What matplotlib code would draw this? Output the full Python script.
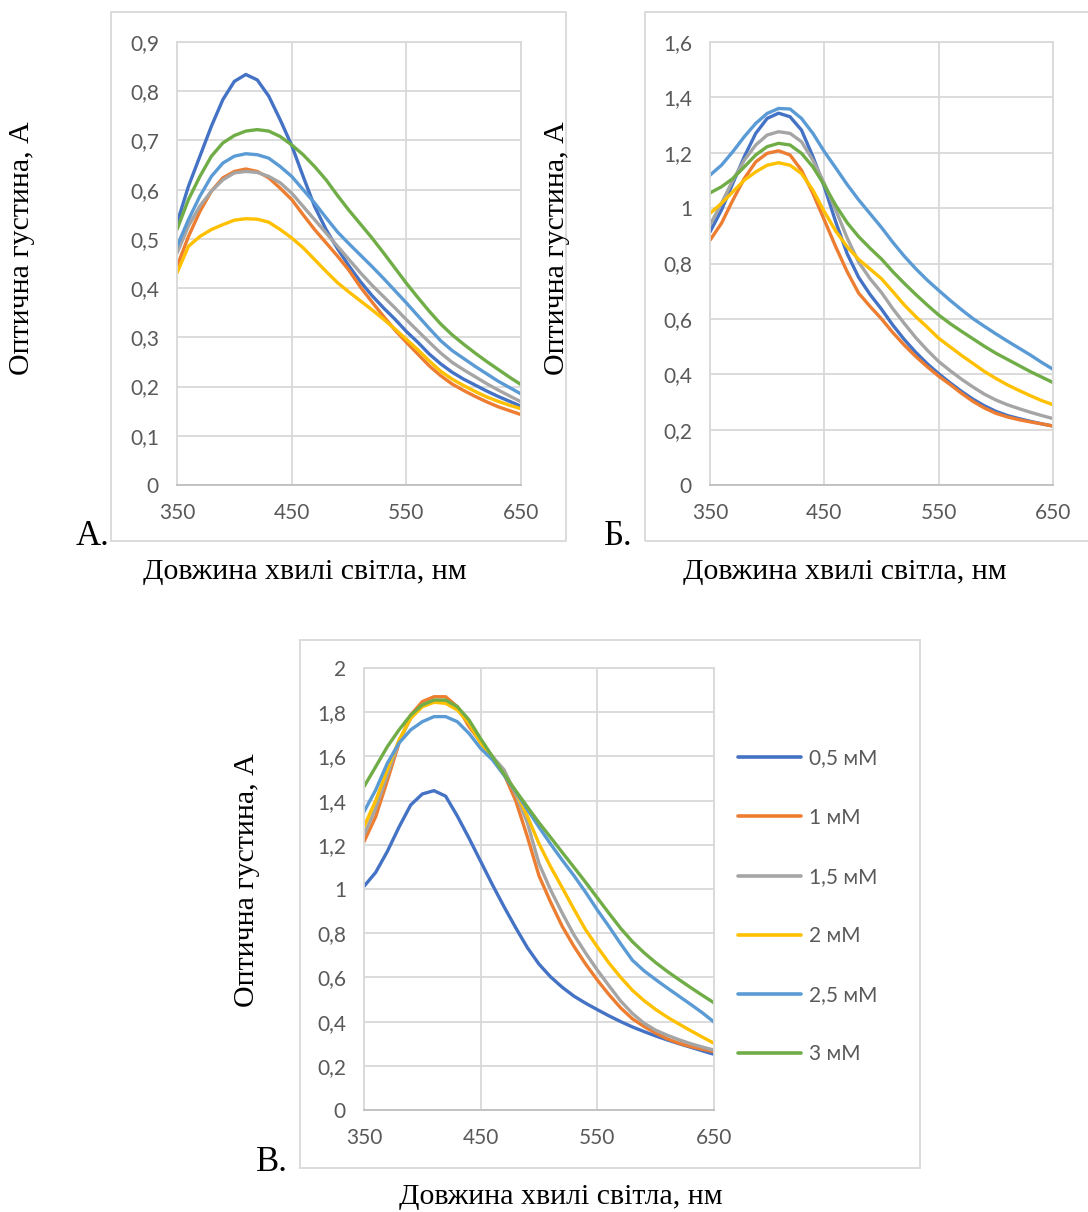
import matplotlib
matplotlib.use("Agg")
import matplotlib.pyplot as plt
from matplotlib.patches import Rectangle

W, H = 1088, 1212

wavelength = [350, 360, 370, 380, 390, 400, 410, 420, 430, 440, 450, 460, 470, 480, 490, 500,
              510, 520, 530, 540, 550, 560, 570, 580, 590, 600, 610, 620, 630, 640, 650]
series_names = ["0,5 мМ", "1 мМ", "1,5 мМ", "2 мМ", "2,5 мМ", "3 мМ"]
series_colors = ["#4472C4", "#ED7D31", "#A5A5A5", "#FFC000", "#5B9BD5", "#70AD47"]

# Panel A
a_05 = [0.532, 0.607, 0.668, 0.729, 0.783, 0.820, 0.834, 0.823, 0.790, 0.742, 0.690, 0.627, 0.566, 0.519, 0.480, 0.445,
        0.413, 0.385, 0.360, 0.337, 0.312, 0.290, 0.266, 0.246, 0.229, 0.215, 0.203, 0.191, 0.180, 0.170, 0.160]
a_1 = [0.444, 0.505, 0.556, 0.597, 0.624, 0.637, 0.642, 0.637, 0.624, 0.603, 0.580, 0.549, 0.519, 0.492, 0.465, 0.436,
       0.402, 0.372, 0.343, 0.315, 0.290, 0.266, 0.242, 0.222, 0.205, 0.192, 0.180, 0.169, 0.159, 0.151, 0.143]
a_15 = [0.471, 0.526, 0.567, 0.597, 0.620, 0.634, 0.637, 0.635, 0.627, 0.614, 0.593, 0.566, 0.539, 0.512, 0.485, 0.458,
        0.431, 0.406, 0.383, 0.360, 0.336, 0.313, 0.290, 0.268, 0.249, 0.234, 0.220, 0.206, 0.193, 0.181, 0.169]
a_2 = [0.431, 0.485, 0.505, 0.519, 0.529, 0.538, 0.541, 0.540, 0.534, 0.519, 0.502, 0.482, 0.458, 0.434, 0.411, 0.392,
       0.374, 0.356, 0.337, 0.317, 0.296, 0.275, 0.252, 0.231, 0.215, 0.202, 0.190, 0.179, 0.170, 0.162, 0.155]
a_25 = [0.485, 0.539, 0.587, 0.627, 0.654, 0.668, 0.673, 0.671, 0.664, 0.647, 0.627, 0.600, 0.573, 0.543, 0.514, 0.490,
        0.467, 0.444, 0.420, 0.395, 0.370, 0.344, 0.318, 0.293, 0.273, 0.257, 0.241, 0.226, 0.211, 0.198, 0.185]
a_3 = [0.519, 0.580, 0.627, 0.668, 0.695, 0.710, 0.719, 0.722, 0.719, 0.708, 0.691, 0.671, 0.647, 0.620, 0.588, 0.558,
       0.530, 0.502, 0.472, 0.441, 0.410, 0.381, 0.353, 0.327, 0.305, 0.286, 0.268, 0.251, 0.235, 0.219, 0.204]

# Panel Б
b_05 = [0.914, 0.993, 1.090, 1.186, 1.270, 1.324, 1.343, 1.330, 1.282, 1.186, 1.077, 0.950, 0.835, 0.750, 0.688, 0.635,
        0.577, 0.525, 0.479, 0.438, 0.402, 0.369, 0.338, 0.310, 0.286, 0.266, 0.251, 0.240, 0.230, 0.221, 0.213]
b_1 = [0.884, 0.945, 1.029, 1.107, 1.167, 1.198, 1.207, 1.192, 1.137, 1.053, 0.957, 0.860, 0.770, 0.693, 0.645, 0.600,
       0.550, 0.505, 0.464, 0.427, 0.393, 0.363, 0.331, 0.302, 0.278, 0.259, 0.246, 0.236, 0.228, 0.221, 0.213]
b_15 = [0.939, 1.017, 1.101, 1.173, 1.228, 1.264, 1.276, 1.270, 1.240, 1.173, 1.089, 0.993, 0.892, 0.805, 0.745, 0.695,
        0.636, 0.583, 0.532, 0.487, 0.446, 0.413, 0.382, 0.354, 0.328, 0.307, 0.290, 0.276, 0.263, 0.251, 0.240]
b_2 = [0.981, 1.017, 1.059, 1.101, 1.131, 1.155, 1.164, 1.155, 1.125, 1.065, 0.987, 0.917, 0.860, 0.815, 0.780, 0.745,
       0.698, 0.650, 0.608, 0.570, 0.530, 0.499, 0.468, 0.439, 0.410, 0.385, 0.362, 0.342, 0.323, 0.305, 0.290]
b_25 = [1.119, 1.155, 1.204, 1.258, 1.306, 1.342, 1.360, 1.358, 1.324, 1.270, 1.204, 1.145, 1.085, 1.030, 0.980, 0.930,
        0.876, 0.826, 0.781, 0.740, 0.703, 0.667, 0.633, 0.601, 0.573, 0.546, 0.520, 0.495, 0.470, 0.443, 0.418]
b_3 = [1.055, 1.077, 1.107, 1.149, 1.192, 1.222, 1.234, 1.228, 1.198, 1.149, 1.083, 1.010, 0.947, 0.897, 0.855, 0.816,
       0.770, 0.728, 0.688, 0.650, 0.614, 0.583, 0.555, 0.528, 0.501, 0.476, 0.454, 0.432, 0.410, 0.390, 0.370]

# Panel В
c_05 = [1.012, 1.075, 1.170, 1.280, 1.380, 1.430, 1.445, 1.420, 1.330, 1.230, 1.125, 1.020, 0.920, 0.825, 0.735, 0.660,
        0.602, 0.555, 0.515, 0.483, 0.454, 0.426, 0.400, 0.376, 0.355, 0.335, 0.317, 0.300, 0.284, 0.268, 0.252]
c_1 = [1.214, 1.327, 1.490, 1.660, 1.787, 1.848, 1.870, 1.870, 1.825, 1.735, 1.665, 1.600, 1.520, 1.400, 1.237, 1.060,
       0.940, 0.830, 0.740, 0.660, 0.588, 0.522, 0.462, 0.413, 0.378, 0.348, 0.322, 0.302, 0.287, 0.275, 0.264]
c_15 = [1.244, 1.365, 1.516, 1.667, 1.772, 1.833, 1.850, 1.848, 1.818, 1.750, 1.660, 1.600, 1.540, 1.430, 1.300, 1.115,
        0.995, 0.890, 0.792, 0.710, 0.633, 0.562, 0.493, 0.437, 0.393, 0.361, 0.338, 0.318, 0.300, 0.285, 0.271]
c_2 = [1.282, 1.400, 1.540, 1.674, 1.772, 1.825, 1.845, 1.840, 1.810, 1.750, 1.660, 1.590, 1.520, 1.440, 1.330, 1.205,
       1.100, 1.005, 0.908, 0.815, 0.738, 0.665, 0.600, 0.542, 0.495, 0.455, 0.420, 0.389, 0.359, 0.330, 0.302]
c_25 = [1.350, 1.448, 1.569, 1.660, 1.720, 1.757, 1.780, 1.780, 1.757, 1.704, 1.636, 1.585, 1.515, 1.440, 1.360, 1.280,
        1.203, 1.130, 1.060, 0.985, 0.905, 0.830, 0.752, 0.678, 0.630, 0.590, 0.552, 0.515, 0.478, 0.440, 0.398]
c_3 = [1.463, 1.553, 1.644, 1.720, 1.787, 1.833, 1.855, 1.855, 1.825, 1.765, 1.680, 1.600, 1.520, 1.445, 1.372, 1.300,
       1.233, 1.165, 1.098, 1.030, 0.960, 0.890, 0.822, 0.762, 0.712, 0.667, 0.627, 0.590, 0.554, 0.519, 0.485]

x_ticks = [350, 450, 550, 650]
x_tick_labels = ["350", "450", "550", "650"]
a_y_ticks = [0, 0.1, 0.2, 0.3, 0.4, 0.5, 0.6, 0.7, 0.8, 0.9]
a_y_labels = ["0", "0,1", "0,2", "0,3", "0,4", "0,5", "0,6", "0,7", "0,8", "0,9"]
b_y_ticks = [0, 0.2, 0.4, 0.6, 0.8, 1.0, 1.2, 1.4, 1.6]
b_y_labels = ["0", "0,2", "0,4", "0,6", "0,8", "1", "1,2", "1,4", "1,6"]
c_y_ticks = [0, 0.2, 0.4, 0.6, 0.8, 1.0, 1.2, 1.4, 1.6, 1.8, 2.0]
c_y_labels = ["0", "0,2", "0,4", "0,6", "0,8", "1", "1,2", "1,4", "1,6", "1,8", "2"]

ylabel_text = "Оптична густина, А"
xlabel_text = "Довжина хвилі світла, нм"
panel_letters = ["А.", "Б.", "В."]

TICK_FONT = "Lato"
SERIF = "Liberation Serif"
TICK_COLOR = "#595959"
GRID = "#d9d9d9"

fig = plt.figure(figsize=(W / 100, H / 100), dpi=100)


def fx(px):
    return px / W


def fy(py):
    return 1 - py / H


def box(x0, y0, x1, y1):
    fig.patches.append(Rectangle((fx(x0), fy(y1)), fx(x1) - fx(x0), fy(y0) - fy(y1),
                                 transform=fig.transFigure, fill=False,
                                 edgecolor="#d9d9d9", linewidth=1.3, zorder=0))


def make_axes(rect_px, series, yticks, ylabels):
    l, t, r, b = rect_px
    ax = fig.add_axes([fx(l), fy(b), fx(r) - fx(l), fy(t) - fy(b)])
    for vals, col, name in zip(series, series_colors, series_names):
        ax.plot(wavelength, vals, color=col, lw=2.4, label=name,
                solid_capstyle="round", solid_joinstyle="round")
    ax.set_xlim(350, 650)
    ax.set_ylim(yticks[0], yticks[-1])
    ax.set_xticks(x_ticks)
    ax.set_xticklabels(x_tick_labels)
    ax.set_yticks(yticks)
    ax.set_yticklabels(ylabels)
    ax.grid(True, color=GRID, lw=1.3)
    ax.set_axisbelow(True)
    for s in ["left", "right", "top"]:
        ax.spines[s].set_color(GRID)
        ax.spines[s].set_linewidth(1.3)
    ax.spines["bottom"].set_color("#bfbfbf")
    ax.spines["bottom"].set_linewidth(1.3)
    ax.tick_params(length=0, labelsize=15, labelcolor=TICK_COLOR, pad=13)
    for lab in ax.get_xticklabels() + ax.get_yticklabels():
        lab.set_fontfamily(TICK_FONT)
    return ax


# boxes
box(111, 12, 566, 541)
box(645, 12, 1100, 541)
box(300, 640, 920, 1168)

axA = make_axes((177, 42, 521, 485), [a_05, a_1, a_15, a_2, a_25, a_3], a_y_ticks, a_y_labels)
axB = make_axes((710, 42, 1053, 485), [b_05, b_1, b_15, b_2, b_25, b_3], b_y_ticks, b_y_labels)
axC = make_axes((364, 668, 714, 1110), [c_05, c_1, c_15, c_2, c_25, c_3], c_y_ticks, c_y_labels)

leg = axC.legend(loc="center left", bbox_to_anchor=(fx(738), fy(906.5)),
                 bbox_transform=fig.transFigure, frameon=False, borderpad=0,
                 borderaxespad=0, handlelength=3.0, handletextpad=0.4, labelspacing=1.88,
                 prop={"family": TICK_FONT, "size": 15})
for t in leg.get_texts():
    t.set_color(TICK_COLOR)
for h in leg.get_lines():
    h.set_linewidth(2.6)

# axis labels
lab_kw = dict(family=SERIF, fontsize=21.5, color="black")
fig.text(fx(22), fy(248), ylabel_text, rotation=90, ha="center", va="center", **lab_kw)
fig.text(fx(557), fy(248), ylabel_text, rotation=90, ha="center", va="center", **lab_kw)
fig.text(fx(247), fy(880), ylabel_text, rotation=90, ha="center", va="center", **lab_kw)
fig.text(fx(305), fy(572), xlabel_text, ha="center", va="center", **lab_kw)
fig.text(fx(845), fy(572), xlabel_text, ha="center", va="center", **lab_kw)
fig.text(fx(561), fy(1197), xlabel_text, ha="center", va="center", **lab_kw)

let_kw = dict(family=SERIF, fontsize=25, color="black", va="baseline", ha="left")
fig.text(fx(76), fy(545), panel_letters[0], **let_kw)
fig.text(fx(604), fy(545), panel_letters[1], **let_kw)
fig.text(fx(256), fy(1171), panel_letters[2], **let_kw)

fig.savefig("out.png", dpi=100, facecolor="white")
